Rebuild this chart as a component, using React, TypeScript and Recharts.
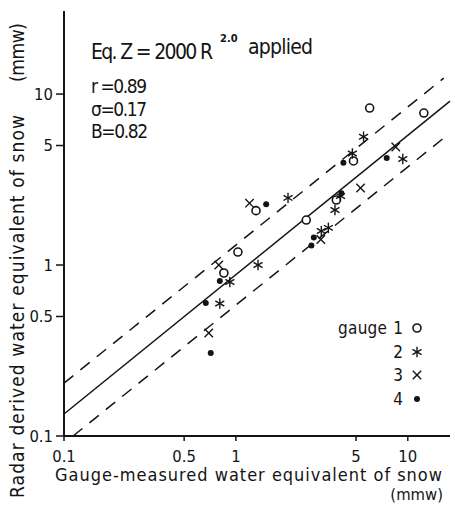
import React from 'react';
import { ScatterChart, Scatter, XAxis, YAxis, ReferenceLine } from 'recharts';

const xTicks = [0.1, 0.5, 1, 5, 10];
const yTicks = [0.1, 0.5, 1, 5, 10];
const xDomain: [number, number] = [0.1, 17.6];
const yDomain: [number, number] = [0.1, 30.6];

// [gauge-measured, radar-derived] in mmw
const gauge1: [number, number][] = [
  [0.851, 0.898], [1.027, 1.191], [1.309, 2.08], [2.567, 1.833],
  [3.84, 2.4], [4.83, 4.06], [6.0, 8.28], [12.4, 7.74],
];
const gauge2: [number, number][] = [
  [0.806, 0.596], [0.922, 0.795], [1.345, 1.0], [2.01, 2.47],
  [3.14, 1.58], [3.45, 1.65], [3.77, 2.1], [4.06, 2.53],
  [4.76, 4.49], [5.53, 5.63], [9.35, 4.17],
];
const gauge3: [number, number][] = [
  [0.695, 0.4], [0.795, 1.0], [1.2, 2.3], [3.12, 1.41], [5.31, 2.82], [8.51, 4.9],
];
const gauge4: [number, number][] = [
  [0.714, 0.306], [0.668, 0.6], [0.806, 0.806], [1.5, 2.27], [2.75, 1.3],
  [2.84, 1.45], [4.11, 2.63], [4.22, 3.97], [7.54, 4.22],
];

const regression: [number, number][] = [[0.1, 0.1345], [17.6, 9.1]];
const upperBand: [number, number][] = [[0.1, 0.204], [16.2, 12.4]];
const lowerBand: [number, number][] = [[0.1129, 0.1], [17.5, 5.89]];

const INK = '#141414';
const FONT = '"Liberation Sans Narrow", "DejaVu Sans Condensed", "Liberation Sans", sans-serif';

const toPts = (a: [number, number][]) => a.map(([x, y]) => ({ x, y }));
const seg = (a: [number, number][]) => a.map(([x, y]) => ({ x, y }));

const OpenCircle = (p: any) => (
  <circle cx={p.cx} cy={p.cy} r={4} fill="#fff" stroke={INK} strokeWidth={1.6} />
);
const Dot = (p: any) => <circle cx={p.cx} cy={p.cy} r={3} fill={INK} />;
const Star = (p: any) => {
  const r = 5.2;
  return (
    <g stroke={INK} strokeWidth={1.4}>
      {[90, 30, -30].map((a) => {
        const dx = r * Math.cos((a * Math.PI) / 180);
        const dy = r * Math.sin((a * Math.PI) / 180);
        return <line key={a} x1={p.cx - dx} y1={p.cy - dy} x2={p.cx + dx} y2={p.cy + dy} />;
      })}
    </g>
  );
};
const Cross = (p: any) => {
  const r = 4.2;
  return (
    <g stroke={INK} strokeWidth={1.4}>
      <line x1={p.cx - r} y1={p.cy - r} x2={p.cx + r} y2={p.cy + r} />
      <line x1={p.cx - r} y1={p.cy + r} x2={p.cx + r} y2={p.cy - r} />
    </g>
  );
};

const legendRows = [
  { label: '1', y: 334, Shape: OpenCircle },
  { label: '2', y: 358, Shape: Star },
  { label: '3', y: 381, Shape: Cross },
  { label: '4', y: 405, Shape: Dot },
];

export default function App() {
  return (
    <div style={{ position: 'absolute', left: 0, top: 0, width: 455, height: 505, background: '#fff' }}>
      <ScatterChart width={455} height={505} margin={{ top: 11, right: 5, left: 0, bottom: 0 }}>
        <XAxis
          xAxisId="top"
          orientation="top"
          type="number"
          scale="log"
          domain={xDomain}
          allowDataOverflow
          height={0}
          tick={false}
          tickLine={false}
          axisLine={{ stroke: INK, strokeWidth: 1.6 }}
        />
        <XAxis
          dataKey="x"
          type="number"
          scale="log"
          domain={xDomain}
          allowDataOverflow
          ticks={xTicks}
          height={69}
          tickSize={5}
          tickMargin={9}
          tick={{ fill: INK, fontSize: 16.5, fontFamily: FONT }}
          axisLine={{ stroke: INK, strokeWidth: 2 }}
          tickLine={{ stroke: INK, strokeWidth: 1.5 }}
        />
        <YAxis
          dataKey="y"
          type="number"
          scale="log"
          domain={yDomain}
          allowDataOverflow
          ticks={yTicks}
          width={64}
          tickSize={8}
          tickMargin={3}
          tick={{ fill: INK, fontSize: 16.5, fontFamily: FONT }}
          axisLine={{ stroke: INK, strokeWidth: 2 }}
          tickLine={{ stroke: INK, strokeWidth: 1.5 }}
        />
        <ReferenceLine segment={seg(regression)} stroke={INK} strokeWidth={1.5} ifOverflow="visible" />
        <ReferenceLine segment={seg(upperBand)} stroke={INK} strokeWidth={1.5} strokeDasharray="12 9" ifOverflow="visible" />
        <ReferenceLine segment={seg(lowerBand)} stroke={INK} strokeWidth={1.5} strokeDasharray="12 9" ifOverflow="visible" />
        <Scatter data={toPts(gauge1)} shape={OpenCircle} isAnimationActive={false} />
        <Scatter data={toPts(gauge2)} shape={Star} isAnimationActive={false} />
        <Scatter data={toPts(gauge3)} shape={Cross} isAnimationActive={false} />
        <Scatter data={toPts(gauge4)} shape={Dot} isAnimationActive={false} />
      </ScatterChart>
      <svg
        width={455}
        height={505}
        style={{ position: 'absolute', left: 0, top: 0, pointerEvents: 'none' }}
        fontFamily={FONT}
        fill={INK}
      >
        <text transform="translate(24,498) rotate(-90)" fontSize={19} textLength={383} lengthAdjust="spacing">
          Radar derived water equivalent of snow
        </text>
        <text transform="translate(24,82) rotate(-90)" fontSize={19} textLength={59} lengthAdjust="spacing">
          (mmw)
        </text>
        <text x={55} y={481} fontSize={18} textLength={387} lengthAdjust="spacing">
          Gauge-measured water equivalent of snow
        </text>
        <text x={443} y={500} fontSize={16.5} textAnchor="end">
          (mmw)
        </text>
        <text x={91} y={59} fontSize={21} textLength={122} lengthAdjust="spacing">
          Eq. Z = 2000 R
        </text>
        <text x={220} y={42} fontSize={11} fontWeight="bold">2.0</text>
        <text x={248} y={54} fontSize={21} textLength={65} lengthAdjust="spacing">applied</text>
        <text x={91} y={93} fontSize={19} textLength={56} lengthAdjust="spacing">r =0.89</text>
        <text x={91} y={116} fontSize={19} textLength={56} lengthAdjust="spacing">σ=0.17</text>
        <text x={91} y={138} fontSize={19} textLength={57} lengthAdjust="spacing">B=0.82</text>
        <text x={338} y={334} fontSize={17} textLength={49} lengthAdjust="spacing">gauge</text>
        {legendRows.map(({ label, y, Shape }) => (
          <g key={label}>
            <text x={403} y={y} fontSize={17} textAnchor="end">{label}</text>
            <Shape cx={417} cy={y - 6} />
          </g>
        ))}
      </svg>
    </div>
  );
}
